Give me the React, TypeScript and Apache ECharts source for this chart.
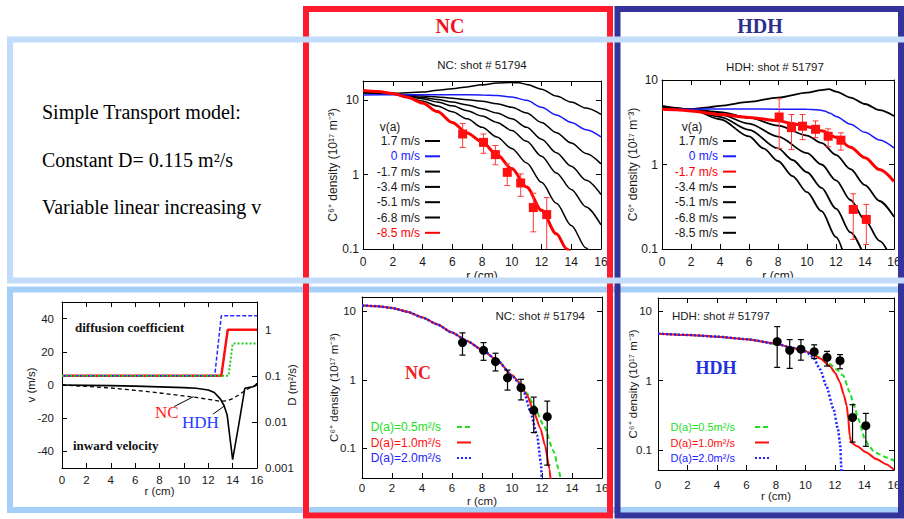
import { useEffect, useRef } from 'react';
import * as echarts from 'echarts';

type Pt = [number, number];
type Err = [number, number, number];

// ---------------- top row : v(a) scan, constant D ----------------
const velLabels = ['1.7 m/s', '0 m/s', '-1.7 m/s', '-3.4 m/s', '-5.1 m/s', '-6.8 m/s', '-8.5 m/s'];

const ncTopP17: Pt[] = [[0, 12.6], [2, 12.3], [4, 12.8], [5, 13.5], [6, 14.2], [7, 15.0], [8, 16.0], [9, 16.9], [10, 17.2], [10.5, 17.0], [11, 16.2], [12, 14.0], [13, 11.3], [14, 9.4], [15, 7.8], [16, 6.4]];
const ncTop0: Pt[] = [[0, 11.7], [2, 11.8], [4, 11.8], [6, 11.8], [8, 11.7], [9, 11.5], [10, 11.0], [11, 9.9], [12, 8.0], [13, 6.3], [14, 5.0], [15, 4.0], [16, 3.2]];
const ncTopM17: Pt[] = [[0, 12.4], [1, 12.3], [2, 12.0], [3, 11.6], [4, 11.3], [5, 11.0], [6, 10.6], [7, 10.1], [8, 9.6], [9, 8.9], [10, 8.0], [11, 6.7], [12, 5.0], [13, 3.64], [14, 2.65], [15, 1.92], [16, 1.39]];
const ncTopM34: Pt[] = [[0, 12.6], [1, 12.4], [2, 12.0], [3, 11.4], [4, 10.8], [5, 10.2], [6, 9.4], [7, 8.6], [8, 7.65], [9, 6.7], [10, 5.6], [11, 4.3], [12, 2.97], [13, 1.96], [14, 1.29], [15, 0.84], [16, 0.54]];
const ncTopM51: Pt[] = [[0, 12.8], [1, 12.5], [2, 12.0], [3, 11.2], [4, 10.4], [5, 9.4], [6, 8.35], [7, 7.2], [8, 6.1], [9, 5.0], [10, 3.9], [11, 2.79], [12, 1.76], [13, 1.05], [14, 0.63], [15, 0.366], [16, 0.21]];
const ncTopM68: Pt[] = [[0, 13.0], [1, 12.6], [2, 12.0], [3, 10.9], [4, 9.7], [5, 8.3], [6, 6.95], [7, 5.6], [8, 4.3], [9, 3.2], [10, 2.24], [11, 1.43], [12, 0.785], [13, 0.41], [14, 0.207], [15, 0.103], [15.5, 0.071]];
const ncTopM85: Pt[] = [[0, 13.4], [1, 13.0], [2, 12.2], [3, 10.9], [4, 9.1], [5, 7.0], [6, 5.0], [7, 3.6], [8, 2.75], [9, 1.85], [10, 1.2], [11, 0.68], [12, 0.33], [13, 0.16], [13.7, 0.1], [14.2, 0.075]];

const hdhTopP17: Pt[] = [[0, 4.8], [1, 4.6], [2, 4.5], [3, 4.7], [4, 4.95], [6, 5.5], [8, 6.2], [10, 7.1], [11, 7.6], [11.5, 7.8], [12, 7.3], [13, 6.2], [14, 5.2], [15, 4.4], [16, 3.75]];
const hdhTop0: Pt[] = [[0, 4.5], [2, 4.52], [4, 4.55], [6, 4.55], [8, 4.52], [10, 4.5], [10.7, 4.45], [11.2, 4.3], [11.6, 4.05], [12, 3.7], [13, 3.0], [14, 2.4], [15, 1.95], [16, 1.57]];
const hdhTopM17: Pt[] = [[0, 4.5], [1, 4.45], [2, 4.3], [4, 3.9], [6, 3.6], [8, 3.3], [9, 3.05], [10, 2.8], [11, 2.5], [12, 2.1], [13, 1.6], [14, 1.2], [15, 0.87], [16, 0.63]];
const hdhTopM34: Pt[] = [[0, 4.6], [2, 4.5], [4, 4.16], [6, 3.58], [8, 2.89], [10, 2.2], [11, 1.8], [12, 1.3], [13, 0.88], [14, 0.57], [15, 0.37], [16, 0.24]];
const hdhTopM51: Pt[] = [[0, 4.7], [2, 4.5], [4, 3.92], [6, 3.05], [8, 2.14], [10, 1.36], [11, 1.0], [12, 0.65], [13, 0.38], [14, 0.22], [15, 0.125], [15.8, 0.078]];
const hdhTopM68: Pt[] = [[0, 4.8], [2, 4.5], [4, 3.67], [6, 2.57], [8, 1.55], [9, 1.13], [10, 0.81], [11, 0.53], [12, 0.3], [13, 0.157], [14, 0.078]];
const hdhTopM85: Pt[] = [[0, 4.94], [2, 4.5], [4, 3.43], [6, 2.15], [7, 1.55], [8, 1.1], [9, 0.73], [10, 0.47], [11, 0.28], [12, 0.138], [12.6, 0.08]];

// measured C6+ density (NC shot 51794, HDH shot 51797): [r, n] and [r, low, high]
const ncPts: Pt[] = [[6.7, 3.5], [8.1, 2.7], [8.9, 1.85], [9.7, 1.07], [10.6, 0.77], [11.45, 0.36], [12.35, 0.29]];
const ncErr: Err[] = [[6.7, 2.3, 4.85], [8.1, 1.93, 3.5], [8.9, 1.35, 2.45], [9.7, 0.71, 1.39], [10.6, 0.51, 1.02], [11.45, 0.17, 0.56], [12.35, 0.057, 0.49]];
const hdhPts: Pt[] = [[8.08, 3.65], [8.93, 2.73], [9.69, 2.84], [10.59, 2.61], [11.46, 2.16], [12.34, 1.94], [13.19, 0.294], [14.09, 0.224]];
const hdhErr: Err[] = [[8.08, 1.55, 6.0], [8.93, 1.5, 3.9], [9.69, 1.97, 3.9], [10.59, 2.08, 3.28], [11.46, 1.62, 2.64], [12.34, 1.48, 2.37], [13.19, 0.13, 0.45], [14.09, 0.113, 0.337]];

// ---------------- bottom row : D(a) scan ----------------
const dLabels = ['D(a)=0.5m²/s', 'D(a)=1.0m²/s', 'D(a)=2.0m²/s'];

const ncBotD05: Pt[] = [[0, 12.2], [1, 11.9], [2, 11.2], [3, 9.9], [4, 8.2], [5, 6.5], [6, 4.9], [7, 3.7], [8, 2.75], [9, 1.95], [10, 1.17], [10.5, 0.92], [11, 0.64], [11.4, 0.45], [12.1, 0.22], [12.8, 0.089], [13.1, 0.05], [13.3, 0.03]];
const ncBotD10: Pt[] = [[0, 12.2], [1, 11.9], [2, 11.2], [3, 9.9], [4, 8.2], [5, 6.5], [6, 4.9], [7, 3.7], [8, 2.75], [9, 1.95], [10, 1.17], [10.5, 0.91], [11, 0.6], [11.4, 0.37], [11.9, 0.195], [12.2, 0.11], [12.5, 0.05], [12.6, 0.03]];
const ncBotD20: Pt[] = [[0, 12.2], [1, 11.9], [2, 11.2], [3, 9.9], [4, 8.2], [5, 6.5], [6, 4.9], [7, 3.7], [8, 2.75], [9, 1.95], [10, 1.16], [10.5, 0.88], [10.8, 0.66], [11.2, 0.36], [11.67, 0.156], [11.93, 0.06], [12.0, 0.03]];

const hdhBotD05: Pt[] = [[0, 4.75], [2, 4.55], [4, 4.3], [6, 3.95], [8, 3.4], [9, 3.0], [10, 2.65], [10.5, 2.42], [11, 2.15], [11.65, 1.74], [12.1, 1.45], [12.56, 1.18], [13.0, 0.68], [13.3, 0.43], [13.58, 0.28], [14.03, 0.143], [14.3, 0.115], [14.6, 0.097], [15, 0.087], [15.5, 0.078], [16, 0.07]];
const hdhBotD10: Pt[] = [[0, 4.75], [2, 4.55], [4, 4.3], [6, 3.95], [8, 3.4], [9, 3.0], [10, 2.65], [10.5, 2.38], [11, 2.08], [11.65, 1.62], [12.0, 1.3], [12.33, 0.95], [12.6, 0.62], [12.8, 0.43], [12.9, 0.28], [13.0, 0.16], [13.1, 0.128], [13.5, 0.113], [14.1, 0.093], [14.8, 0.074], [15.5, 0.062], [16, 0.052]];
const hdhBotD20: Pt[] = [[0, 4.75], [2, 4.55], [4, 4.3], [6, 3.95], [8, 3.4], [9, 3.0], [10, 2.62], [10.5, 2.2], [11, 1.45], [11.4, 0.85], [11.9, 0.39], [12.2, 0.2], [12.35, 0.12], [12.42, 0.06], [12.45, 0.04]];

// bottom-left : transport coefficients
const velHDH: Pt[] = [[0, 0], [2, -0.2], [4, -0.4], [6, -0.7], [8, -1.1], [10, -1.6], [11, -2.0], [12, -3.0], [12.5, -4.5], [13.0, -8.5], [13.3, -12.5], [13.55, -18], [14.0, -45], [14.5, -24], [15.0, -2], [15.5, -1.3], [15.8, -0.8], [16, 1]];
const velNC: Pt[] = [[0, 0], [2, -0.8], [4, -1.8], [6, -3.2], [8, -4.8], [10, -6.6], [11, -7.5], [12, -8.6], [13, -9.8], [13.5, -9.6], [14, -8.2], [14.5, -6], [15, -3.5], [15.5, -1.2], [16, 0]];
const diffD05: Pt[] = [[0, 0.1], [13.67, 0.1], [14.0, 0.5], [16, 0.5]];
const diffD10: Pt[] = [[0, 0.1], [13.07, 0.1], [13.6, 1.0], [16, 1.0]];
const diffD20: Pt[] = [[0, 0.1], [12.53, 0.1], [13.07, 2.0], [16, 2.0]];
const ncLeader: Pt[] = [[9.2, -13], [10.8, -7]];
const hdhLeader: Pt[] = [[12.4, -17.5], [13.35, -12.5]];

const FONT = '"Liberation Sans", Arial, Helvetica, sans-serif';
const SERIF = '"Liberation Serif", "Times New Roman", serif';
const TXT = '#1a1a1a';
const DENS = 'C⁶⁺ density (10¹⁷ m⁻³)';

const AXL = { show: true, onZero: false, lineStyle: { color: '#000', width: 1 } };
const AXT = { show: true, inside: true, length: 5, lineStyle: { color: '#000', width: 1 } };

const xPair = (g: number, margin: number, nameGap: number, fs: number) => [
  {
    type: 'value', gridIndex: g, position: 'bottom', min: 0, max: 16, interval: 2,
    name: 'r (cm)', nameLocation: 'middle', nameGap, nameMoveOverlap: false,
    nameTextStyle: { fontSize: fs, color: TXT, fontFamily: FONT },
    axisLine: AXL, axisTick: AXT,
    axisLabel: { margin, fontSize: fs, color: TXT, fontFamily: FONT },
    splitLine: { show: false },
  },
  {
    type: 'value', gridIndex: g, position: 'top', min: 0, max: 16, interval: 2,
    axisLine: AXL, axisTick: AXT,
    axisLabel: { show: false }, splitLine: { show: false },
  },
];

const yLogPair = (g: number, min: number, max: number, margin: number, nameGap: number, fs: number, showMin: boolean, showMax: boolean) => [
  {
    type: 'log', logBase: 10, gridIndex: g, position: 'left', min, max,
    name: DENS, nameLocation: 'middle', nameGap, nameRotate: 90, nameMoveOverlap: false,
    nameTextStyle: { fontSize: fs, color: TXT, fontFamily: FONT },
    axisLine: AXL, axisTick: AXT,
    axisLabel: { margin, fontSize: fs, color: TXT, fontFamily: FONT, showMinLabel: showMin, showMaxLabel: showMax },
    splitLine: { show: false },
  },
  {
    type: 'log', logBase: 10, gridIndex: g, position: 'right', min, max,
    axisLine: AXL, axisTick: AXT,
    axisLabel: { show: false }, splitLine: { show: false },
  },
];

const lineS = (name: string, ax: number, ay: number, data: Pt[], color: string, width: number, type: any = 'solid', z = 2, smooth: number | boolean = 0.3) => ({
  type: 'line', name, xAxisIndex: ax, yAxisIndex: ay, data, symbol: 'none', smooth, smoothMonotone: 'x',
  lineStyle: { color, width, type }, itemStyle: { color }, z, silent: true, clip: true, animation: false,
});

const errRender = (color: string, cap: number, width: number) => (_p: any, api: any) => {
  const x = api.value(0);
  const lo = api.coord([x, api.value(1)]);
  const hi = api.coord([x, api.value(2)]);
  const st = { stroke: color, lineWidth: width };
  return {
    type: 'group',
    children: [
      { type: 'line', shape: { x1: lo[0], y1: lo[1], x2: hi[0], y2: hi[1] }, style: st },
      { type: 'line', shape: { x1: lo[0] - cap, y1: lo[1], x2: lo[0] + cap, y2: lo[1] }, style: st },
      { type: 'line', shape: { x1: hi[0] - cap, y1: hi[1], x2: hi[0] + cap, y2: hi[1] }, style: st },
    ],
  };
};

const errS = (ax: number, ay: number, data: Err[], color: string, width: number) => ({
  type: 'custom', xAxisIndex: ax, yAxisIndex: ay, data, encode: { x: 0, y: [1, 2] },
  renderItem: errRender(color, 3, width), clip: true, z: 4, silent: true,
});

const ptS = (ax: number, ay: number, data: Pt[], symbol: string, color: string) => ({
  type: 'scatter', xAxisIndex: ax, yAxisIndex: ay, data, symbol, symbolSize: 9,
  itemStyle: { color, opacity: 1 }, z: 5, silent: true, clip: true,
});

const velColorsNC = ['#000', '#1a1aff', '#000', '#000', '#000', '#000', '#ff0000'];
const velWidthNC = [1.5, 1.5, 1.5, 1.5, 1.5, 1.5, 3];
const velColorsHDH = ['#000', '#1a1aff', '#ff0000', '#000', '#000', '#000', '#000'];
const velWidthHDH = [1.8, 1.5, 3, 1.8, 1.8, 1.8, 1.8];

function buildOption() {
  const ncTopCurves = [ncTopP17, ncTop0, ncTopM17, ncTopM34, ncTopM51, ncTopM68, ncTopM85];
  const hdhTopCurves = [hdhTopP17, hdhTop0, hdhTopM17, hdhTopM34, hdhTopM51, hdhTopM68, hdhTopM85];
  const ncBot = [ncBotD05, ncBotD10, ncBotD20];
  const hdhBot = [hdhBotD05, hdhBotD10, hdhBotD20];
  const dColors = ['#22dd22', '#ff1010', '#2222ff'];
  const dTypes: any[] = [[5, 3], 'solid', [2, 2]];
  const dWidths = [2, 2, 2.5];

  const series: any[] = [];
  ncTopCurves.forEach((d, i) => series.push(lineS('nc|' + velLabels[i], 0, 0, d, velColorsNC[i], velWidthNC[i], 'solid', i === 6 ? 3 : i === 1 ? 2.5 : 2)));
  series.push(errS(0, 0, ncErr, '#ff3a3a', 1));
  series.push(ptS(0, 0, ncPts, 'rect', '#ff1010'));

  hdhTopCurves.forEach((d, i) => series.push(lineS('hdh|' + velLabels[i], 2, 2, d, velColorsHDH[i], velWidthHDH[i], 'solid', i === 2 ? 3 : i === 1 ? 2.5 : 2)));
  series.push(errS(2, 2, hdhErr, '#ff3a3a', 1));
  series.push(ptS(2, 2, hdhPts, 'rect', '#ff1010'));

  // bottom-left
  series.push(lineS('vHDH', 4, 4, velHDH, '#000', 1.6, 'solid', 2, false));
  series[series.length - 1].markLine = {
    symbol: 'none', silent: true, label: { show: false }, animation: false,
    lineStyle: { color: '#000', width: 1, type: 'solid' },
    data: [[{ coord: hdhLeader[0] }, { coord: hdhLeader[1] }]],
  };
  series.push(lineS('vNC', 4, 4, velNC, '#000', 1.3, [4, 3], 2, false));
  series[series.length - 1].markLine = {
    symbol: 'none', silent: true, label: { show: false }, animation: false,
    lineStyle: { color: '#000', width: 1, type: 'solid' },
    data: [[{ coord: ncLeader[0] }, { coord: ncLeader[1] }]],
  };
  series.push(lineS('D10', 4, 5, diffD10, '#ff1010', 2.5, 'solid', 2, false));
  series.push(lineS('D20', 4, 5, diffD20, '#2a2aff', 1.5, [4, 2], 3, false));
  series.push(lineS('D05', 4, 5, diffD05, '#22cc22', 2, [2, 2], 4, false));

  ncBot.forEach((d, i) => series.push(lineS('ncb|' + dLabels[i], 6, 6, d, dColors[i], dWidths[i], dTypes[i], 2 + (i === 2 ? 1 : 0), 0.2)));
  series.push(errS(6, 6, ncErr, '#000', 1.2));
  series.push(ptS(6, 6, ncPts, 'circle', '#000'));

  hdhBot.forEach((d, i) => series.push(lineS('hdhb|' + dLabels[i], 8, 8, d, dColors[i], dWidths[i], dTypes[i], 2 + (i === 2 ? 1 : 0), 0.2)));
  series.push(errS(8, 8, hdhErr, '#000', 1.2));
  series.push(ptS(8, 8, hdhPts, 'circle', '#000'));

  const fmt = (n: string) => n.split('|')[1];
  const hiddenSymbol = { opacity: 0, color: 'rgba(0,0,0,0)', borderWidth: 0 };
  const topLegend = (prefix: string, colors: string[], right: number, iw: number) => ({
    orient: 'vertical', align: 'right', right, top: 135, padding: 0,
    itemWidth: iw, itemHeight: 10, itemGap: 3.3, selectedMode: false,
    formatter: fmt, itemStyle: hiddenSymbol,
    textStyle: { fontSize: 12, fontFamily: FONT, color: TXT, lineHeight: 12 },
    data: velLabels.map((l, i) => ({ name: prefix + l, textStyle: { color: colors[i] === '#000' ? TXT : colors[i] } })),
  });
  const botLegend = (prefix: string, right: number, pad: number, fs: number) => ({
    orient: 'vertical', align: 'right', right, top: 420, padding: 0,
    itemWidth: 14, itemHeight: 10, itemGap: 1.5, selectedMode: false,
    formatter: fmt, itemStyle: hiddenSymbol,
    textStyle: { fontSize: fs, fontFamily: FONT, color: TXT, lineHeight: 14, padding: [0, pad, 0, 0] },
    data: dLabels.map((l, i) => ({ name: prefix + l, textStyle: { color: dColors[i], padding: [0, pad, 0, 0] } })),
  });

  const txt = (text: string, x: number, y: number, font: string, fill: string, align = 'left') => ({
    type: 'text', z: 20, silent: true,
    style: { text, x, y, font, fill, textAlign: align, textVerticalAlign: 'middle' },
  });

  return {
    animation: false,
    backgroundColor: '#ffffff',
    textStyle: { fontFamily: FONT },
    grid: [
      { left: 363, top: 81, width: 238, height: 168 },
      { left: 662, top: 80, width: 232, height: 169 },
      { left: 62, top: 302, width: 195, height: 166 },
      { left: 362, top: 297, width: 240, height: 181 },
      { left: 658, top: 298, width: 236, height: 172 },
    ],
    xAxis: [
      ...xPair(0, 7, 21, 12),
      ...xPair(1, 7, 21, 12),
      ...xPair(2, 6, 17, 11.5),
      ...xPair(3, 4, 17, 11.5),
      ...xPair(4, 9, 20, 11.5),
    ],
    yAxis: [
      ...yLogPair(0, 0.1, 18, 4, 24, 12, true, false),
      ...yLogPair(1, 0.1, 10, 4, 23, 12, true, true),
      {
        type: 'value', gridIndex: 2, position: 'left', min: -50, max: 50, splitNumber: 5,
        name: 'v (m/s)', nameLocation: 'middle', nameGap: 25, nameRotate: 90, nameMoveOverlap: false,
        nameTextStyle: { fontSize: 11.5, color: TXT, fontFamily: FONT },
        axisLine: AXL, axisTick: AXT,
        axisLabel: { margin: 8, fontSize: 11.5, color: TXT, fontFamily: FONT, showMinLabel: false, showMaxLabel: false },
        splitLine: { show: false },
      },
      {
        type: 'log', logBase: 10, gridIndex: 2, position: 'right', min: 0.001, max: 4,
        name: 'D (m²/s)', nameLocation: 'middle', nameGap: 29, nameRotate: 90, nameMoveOverlap: false,
        nameTextStyle: { fontSize: 11.5, color: TXT, fontFamily: FONT },
        axisLine: AXL, axisTick: AXT,
        axisLabel: { margin: 8, fontSize: 11.5, color: TXT, fontFamily: FONT, showMinLabel: true, showMaxLabel: false },
        splitLine: { show: false },
      },
      ...yLogPair(3, 0.037, 16.2, 6, 22, 11.5, false, false),
      ...yLogPair(4, 0.0515, 15.5, 6, 19, 11.5, false, false),
    ],
    legend: [
      topLegend('nc|', velColorsNC, 904 - 441, 15),
      topLegend('hdh|', velColorsHDH, 904 - 737, 13),
      botLegend('ncb|', 904 - 472, 11, 12),
      botLegend('hdhb|', 904 - 770, 15, 11),
    ],
    series,
    graphic: {
      elements: [
        { type: 'rect', z: 0, silent: true, shape: { x: 10, y: 289.5, width: 900, height: 220.5 }, style: { fill: 'none', stroke: '#a6cff7', lineWidth: 6 } },
        { type: 'rect', z: 1, silent: true, shape: { x: 306, y: 9, width: 304, height: 506.5 }, style: { fill: 'none', stroke: '#ff1a2e', lineWidth: 6 } },
        { type: 'rect', z: 1, silent: true, shape: { x: 617.5, y: 9, width: 283.5, height: 506.5 }, style: { fill: 'none', stroke: '#333399', lineWidth: 6 } },
        { type: 'rect', z: 2, silent: true, shape: { x: 10, y: 39.5, width: 900, height: 241 }, style: { fill: 'none', stroke: '#c2dcfa', lineWidth: 6 } },
        txt('NC', 450, 26, `bold 20px ${SERIF}`, '#ee1122', 'center'),
        txt('HDH', 760, 26, `bold 20px ${SERIF}`, '#2e2e8c', 'center'),
        txt('Simple Transport model:', 42, 112, `20px ${SERIF}`, '#000'),
        txt('Constant D= 0.115 m²/s', 42, 160, `20px ${SERIF}`, '#000'),
        txt('Variable linear increasing v', 42, 207, `20px ${SERIF}`, '#000'),
        txt('NC: shot # 51794', 482, 65, `11.5px ${FONT}`, TXT, 'center'),
        txt('HDH: shot # 51797', 775, 67, `11.5px ${FONT}`, TXT, 'center'),
        txt('v(a)', 390, 127, `12px ${FONT}`, TXT, 'center'),
        txt('v(a)', 692, 127, `12px ${FONT}`, TXT, 'center'),
        txt('diffusion coefficient', 75, 327, `bold 13px ${SERIF}`, '#111'),
        txt('inward velocity', 73, 445, `bold 13px ${SERIF}`, '#111'),
        txt('NC', 155, 412, `17px ${SERIF}`, '#ff1a1a'),
        txt('HDH', 182, 422, `17px ${SERIF}`, '#1e3cff'),
        txt('NC: shot # 51794', 585, 316, `11.5px ${FONT}`, TXT, 'right'),
        txt('NC', 418, 373, `bold 18px ${SERIF}`, '#ee2222', 'center'),
        txt('HDH: shot # 51797', 672, 316, `11.5px ${FONT}`, TXT, 'left'),
        txt('HDH', 716, 368, `bold 18px ${SERIF}`, '#2233dd', 'center'),
      ],
    },
  };
}

export default function App() {
  const ref = useRef<HTMLDivElement>(null);
  useEffect(() => {
    if (!ref.current) return;
    const chart = echarts.init(ref.current, undefined, { renderer: 'svg' });
    chart.setOption(buildOption() as any);
    return () => chart.dispose();
  }, []);
  return (
    <div
      ref={ref}
      style={{ position: 'absolute', left: 0, top: 0, width: 904, height: 519, background: '#fff' }}
    />
  );
}
